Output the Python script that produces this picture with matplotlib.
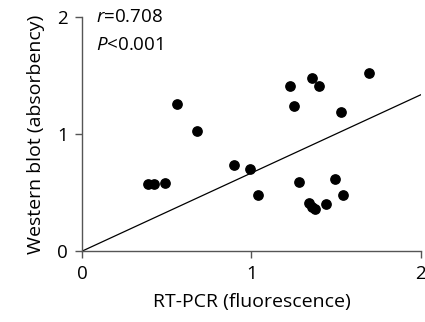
import numpy as np
import matplotlib.pyplot as plt

# RT-PCR vs Western blot values
rt_pcr = [0.39, 0.425, 0.49, 0.56, 0.68, 0.90, 0.99, 1.04, 1.23, 1.25, 1.28,
          1.36, 1.40, 1.34, 1.36, 1.375, 1.44, 1.495, 1.53, 1.54, 1.695]
western = [0.57, 0.57, 0.58, 1.26, 1.03, 0.74, 0.70, 0.48, 1.41, 1.24, 0.59,
           1.48, 1.41, 0.41, 0.38, 0.36, 0.40, 0.62, 1.19, 0.48, 1.52]
fit_slope = 0.668
fit_intercept = 0.0
xticks = [0, 1, 2]
yticks = [0, 1, 2]

plt.rcParams['font.family'] = ['Open Sans', 'DejaVu Sans']
plt.rcParams['mathtext.fontset'] = 'custom'
plt.rcParams['mathtext.it'] = 'Open Sans:italic'

fig = plt.figure(figsize=(4.25, 3.22), dpi=100)
ax = fig.add_axes([0.193, 0.22, 0.797, 0.727])

ax.scatter(rt_pcr, western, s=45, color='black', zorder=3, clip_on=False)
xs = np.array([0, 2])
ax.plot(xs, fit_intercept + fit_slope * xs, color='black', lw=0.9)

ax.set_xlim(0, 2)
ax.set_ylim(0, 2)
ax.set_xticks(xticks)
ax.set_yticks(yticks)
ax.spines['top'].set_visible(False)
ax.spines['right'].set_visible(False)
for s in ['left', 'bottom']:
    ax.spines[s].set_color('#555555')
    ax.spines[s].set_linewidth(1.0)
ax.tick_params(direction='out', length=5, width=1.0, color='#555555',
               labelsize=13.5, pad=5)
ax.set_xlabel('RT-PCR (fluorescence)', fontsize=14, labelpad=7)
ax.set_ylabel('Western blot (absorbency)', fontsize=14, labelpad=9)

ax.text(0.08, 2.0, r'$\it{r}$=0.708', fontsize=13.5, va='center')
ax.text(0.08, 1.76, r'$\it{P}$<0.001', fontsize=13.5, va='center')

fig.savefig('out.png', dpi=100)
